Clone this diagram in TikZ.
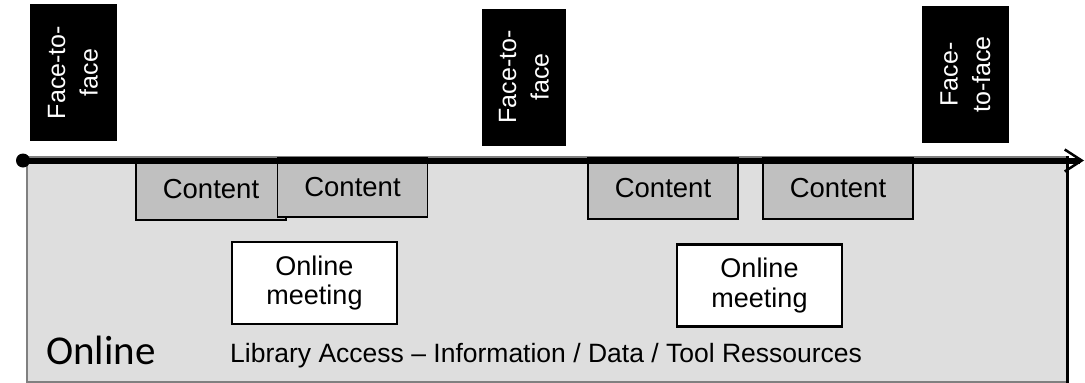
\documentclass[tikz,border=0pt]{standalone}
\usepackage{fontspec}
\setmainfont{Liberation Sans}
\newfontfamily\calibrifont{Carlito}
\usetikzlibrary{arrows.meta}
\definecolor{bggray}{RGB}{222,222,222}
\definecolor{contentgray}{RGB}{192,192,192}
\definecolor{bordergray}{RGB}{128,128,128}
\begin{document}
\begin{tikzpicture}[x=1pt,y=-1pt,
  f2f/.style={fill=black,text=white,rotate=90,minimum width=137pt,minimum height=87pt,inner sep=0pt,align=center,font=\fontsize{25}{32.5}\selectfont},
  contentbox/.style={draw=black,line width=1.5pt,fill=contentgray,minimum width=150pt,minimum height=61pt,inner sep=0pt,font=\fontsize{27.5}{30}\selectfont},
  meeting/.style={draw=black,line width=2.8pt,fill=white,minimum width=165pt,minimum height=82pt,inner sep=0pt,align=center,font=\fontsize{27}{29.5}\selectfont},
  panelbox/.style={draw=bordergray,fill=bggray,line width=1.2pt,inner sep=0pt},
  timeline/.style={line width=6pt,-{Straight Barb[length=17pt,width=22pt,line width=2.5pt]}}
]
\useasboundingbox (0,0) rectangle (1085,383);
% online panel
\node[panelbox,minimum width=1040pt,minimum height=225pt] (panel) at (547,269.5) {};
\draw[black,line width=2.5pt] (panel.north east) -- (panel.south east);
% content boxes
\node[contentbox] (c1) at (211,189.5) {Content};
\node[contentbox,minimum height=59pt] (c2) at (352.5,187.5) {Content};
\node[contentbox] (c3) at (663,188.5) {Content};
\node[contentbox] (c4) at (838,188.5) {Content};
% online meetings
\node[meeting] (m1) at (314.5,283) {Online\\meeting};
\node[meeting] (m2) at (759.5,285.5) {Online\\meeting};
% timeline
\coordinate (tstart) at (23,160.5);
\coordinate (tend) at (1084,160.5);
\draw[timeline] (tstart) -- (tend);
\fill[black] (tstart) circle (7pt);
% face-to-face
\node[f2f] (f1) at (73,72.5) {Face-to-\\face};
\node[f2f,minimum height=84pt] (f2) at (524,77) {Face-to-\\face};
\node[f2f] (f3) at (965.5,74.5) {Face-\\to-face};
% labels
\node[anchor=base west,inner sep=0pt,font=\calibrifont\fontsize{41}{41}\selectfont] (onl) at (46,364) {Online};
\node[anchor=base west,inner sep=0pt,font=\fontsize{26.5}{30}\selectfont] (lib) at (230,362) {Library Access – Information / Data / Tool Ressources};
\end{tikzpicture}
\end{document}
